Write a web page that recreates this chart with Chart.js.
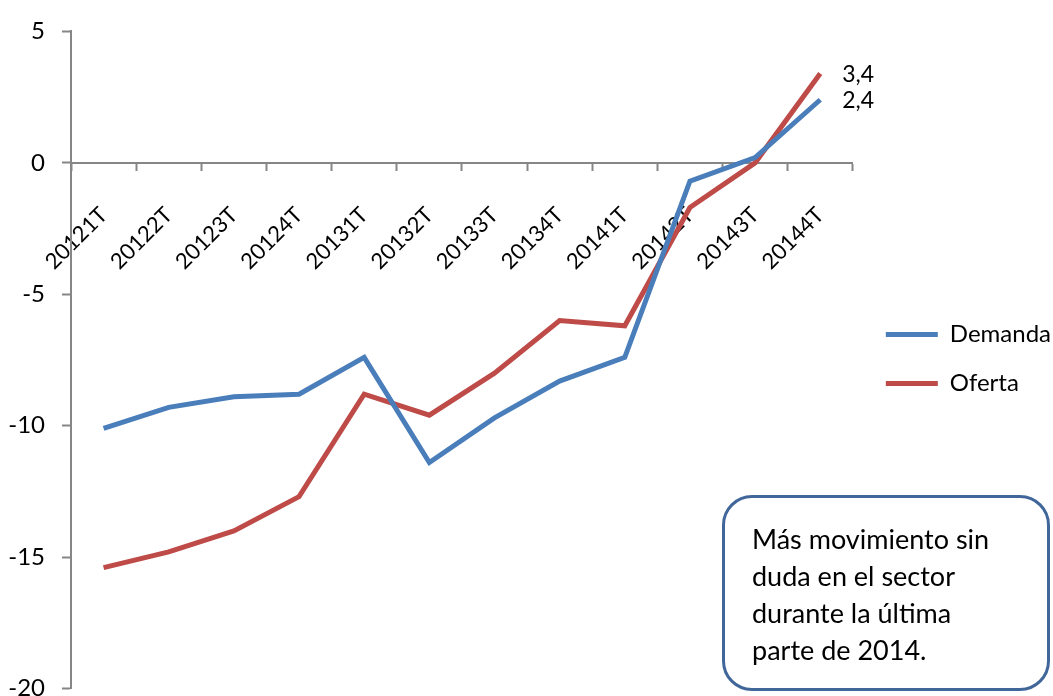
<!DOCTYPE html>
<html lang="es">
<head>
    <meta charset="UTF-8">
    <title>Demanda y Oferta</title>
    <script src="https://cdn.jsdelivr.net/npm/chart.js"></script>
    <style>
        body {
            margin: 0;
            padding: 0;
            background: #fff;
            font-family: Lato, sans-serif;
        }
        #wrap {
            position: relative;
            width: 1053px;
            height: 696px;
            overflow: hidden;
        }
        #chartBox {
            position: absolute;
            left: 0;
            top: 0;
            width: 1053px;
            height: 720px;
        }
        .note {
            position: absolute;
            left: 722px;
            top: 495px;
            width: 328px;
            height: 196px;
            box-sizing: border-box;
            border: 3px solid #41679a;
            border-radius: 30px;
            padding: 22px 0 0 27px;
            font-size: 27px;
            line-height: 37px;
            color: #000;
        }
    </style>
</head>
<body>
<div id="wrap">
    <div id="chartBox"><canvas id="mainChart"></canvas></div>
    <div class="note">Más movimiento sin<br>duda en el sector<br>durante la última<br>parte de 2014.</div>
</div>

<script>
    const quarters = ['20121T', '20122T', '20123T', '20124T', '20131T', '20132T',
                      '20133T', '20134T', '20141T', '20142T', '20143T', '20144T'];
    const demanda = [-10.1, -9.3, -8.9, -8.8, -7.4, -11.4, -9.7, -8.3, -7.4, -0.7, 0.2, 2.4];
    const oferta  = [-15.4, -14.8, -14.0, -12.7, -8.8, -9.6, -8.0, -6.0, -6.2, -1.7, 0.0, 3.4];
    const yTicks = [5, 0, -5, -10, -15, -20];

    const axisGray = '#868686';

    // value label next to the last point of each series
    const endLabels = {
        id: 'endLabels',
        afterDatasetsDraw(chart) {
            const ctx = chart.ctx;
            ctx.save();
            ctx.font = '23px Lato';
            ctx.fillStyle = '#000';
            ctx.textAlign = 'left';
            ctx.textBaseline = 'middle';
            chart.data.datasets.forEach((ds, i) => {
                const meta = chart.getDatasetMeta(i);
                const last = meta.data[meta.data.length - 1];
                const v = ds.data[ds.data.length - 1];
                ctx.fillText(v.toFixed(1).replace('.', ','), last.x + 22, last.y + 1);
            });
            ctx.restore();
        }
    };

    // nudge the legend a bit to the right, chart area stays where it is
    const legendShift = {
        id: 'legendShift',
        afterLayout(chart) {
            if (chart.legend) {
                chart.legend.left += 8;
                chart.legend.right += 8;
            }
        }
    };

    const ctx = document.getElementById('mainChart').getContext('2d');
    new Chart(ctx, {
        type: 'line',
        data: {
            labels: quarters,
            datasets: [{
                label: 'Demanda',
                data: demanda,
                borderColor: '#4a7ebb',
                backgroundColor: '#4a7ebb',
                borderWidth: 5,
                pointRadius: 0,
                tension: 0
            }, {
                label: 'Oferta',
                data: oferta,
                borderColor: '#be4b48',
                backgroundColor: '#be4b48',
                borderWidth: 5,
                pointRadius: 0,
                tension: 0
            }]
        },
        options: {
            responsive: true,
            maintainAspectRatio: false,
            animation: false,
            layout: {
                padding: { top: 28, bottom: 30, left: 0, right: 0 }
            },
            plugins: {
                tooltip: { enabled: false },
                legend: {
                    position: 'right',
                    labels: {
                        usePointStyle: true,
                        pointStyle: 'line',
                        pointStyleWidth: 52,
                        boxHeight: 4,
                        padding: 25,
                        color: '#000',
                        font: { family: 'Lato', size: 24 }
                    }
                }
            },
            scales: {
                x: {
                    position: { y: 0 },
                    offset: true,
                    grid: {
                        offset: true,
                        drawOnChartArea: false,
                        drawTicks: true,
                        tickLength: 7,
                        tickColor: axisGray,
                        tickWidth: 2
                    },
                    border: { color: axisGray, width: 2 },
                    ticks: {
                        autoSkip: false,
                        minRotation: 45,
                        maxRotation: 45,
                        padding: 32,
                        color: '#000',
                        font: { family: 'Lato', size: 22 }
                    }
                },
                y: {
                    min: -20,
                    max: 5,
                    afterFit(scale) { scale.width = 71; },
                    afterBuildTicks(scale) {
                        scale.ticks = yTicks.map(v => ({ value: v }));
                    },
                    grid: {
                        drawOnChartArea: false,
                        drawTicks: true,
                        tickLength: 9,
                        tickColor: axisGray,
                        tickWidth: 2
                    },
                    border: { color: axisGray, width: 2 },
                    ticks: {
                        padding: 17,
                        color: '#000',
                        font: { family: 'Lato', size: 24 }
                    }
                }
            }
        },
        plugins: [endLabels, legendShift]
    });
</script>
</body>
</html>
